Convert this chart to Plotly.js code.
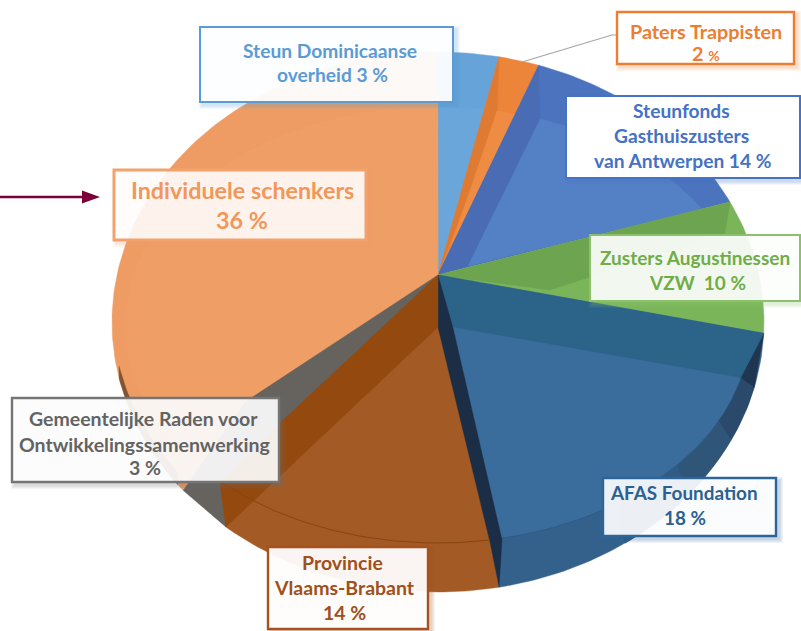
<!DOCTYPE html>
<html>
<head>
<meta charset="utf-8">
<script src="https://cdn.plot.ly/plotly-3.0.0.min.js"></script>
<style>html,body{margin:0;padding:0;background:#fff}#chart{width:801px;height:631px}</style>
</head>
<body>
<div id="chart"></div>
<script>
// ---------- data ----------
const categories = ["Steun Dominicaanse overheid","Paters Trappisten","Steunfonds Gasthuiszusters van Antwerpen","Zusters Augustinessen VZW","AFAS Foundation","Provincie Vlaams-Brabant","Gemeentelijke Raden voor Ontwikkelingssamenwerking","Individuele schenkers"];
const shares = [3,2,14,10,18,14,3,36];
const labelLines = [
  ["Steun Dominicaanse","overheid 3 %"],
  ["Paters Trappisten","<b>2</b> <span style=\"font-size:14px\">%</span>"],
  ["Steunfonds","Gasthuiszusters","van Antwerpen 14 %"],
  ["Zusters Augustinessen","VZW  10 %"],
  ["AFAS Foundation","18 %"],
  ["Provincie","Vlaams-Brabant","14 %"],
  ["Gemeentelijke Raden voor","Ontwikkelingssamenwerking","3 %"],
  ["Individuele schenkers","36 %"]
];

// ---------- styles ----------
const baseColors = ["#66A3D8","#EC8539","#4C74BE","#7AB55A","#34618C","#A35A24","#66635F","#EE9C63"];
const faceColors = ["#6BA6DA","#EF8C44","#5480C6","#7AB55A","#3A6C9C","#A35A24","#66635F","#EF9E66"];
const textColors = ["#5B9BD5","#ED7D31","#4472C4","#70AD47","#2B6192","#A0501A","#636363","#F1975A"];
const edgeColors = ["#5B9BD5","#ED7D31","#4472C4","#8CC06C","#2E6599","#A5521E","#757575","#F2A26C"];
const edgeWidths = [2,2.4,2,2,2.4,2.4,2.4,3];
const boxFill = [0.94,1,1,0.9,0.91,0.94,0.9,0.88];
const boxes = [[200,27,453,102],[617,12,794,64],[566,96,800,178],[590,235,800,301],[603,478,776,536],[268,547,428,629],[12,398,279,482],[114,170,366,240]];
const fontSizes = [19.2,19.8,19.2,19,18.9,19.5,19.5,23.3];
const lineY = [[50,74],[31,53],[110,135,160],[257,282],[492,517],[562,587,612],[418,444,467],[190,220]];
const lineX = [[330,332],[706,706],[681,681,683],[695,697],[684,685],[342,344,344],[143,144,145],[242,242]];

// ---------- pie geometry (pixel axes) ----------
const apex = [438,275];
const rim = {cx:438,cy:322,rx:326,ry:270};
const bevel = {cx:438,cy:325,rx:312,ry:218};
const perspective = [0,0,0,-4.8,-12,0,1,1,0];
const rad = d => d*Math.PI/180;
const onEllipse = (e,t,dy=0) => [e.cx+e.rx*Math.sin(rad(t)), e.cy-e.ry*Math.cos(rad(t))+dy];
const outer = (t,dy) => onEllipse(rim,t,dy);
const inner = t => onEllipse(bevel,t);
function arc(fn,a,b){const n=Math.max(2,Math.ceil(Math.abs(b-a)));const p=[];for(let i=0;i<=n;i++)p.push(fn(a+(b-a)*i/n));return p;}
function hit(t){ // where the ray from the apex to the rim at t crosses the bevel ellipse
  const q=outer(t),dx=(q[0]-apex[0])/bevel.rx,dy=(q[1]-apex[1])/bevel.ry;
  const ox=(apex[0]-bevel.cx)/bevel.rx,oy=(apex[1]-bevel.cy)/bevel.ry;
  const A=dx*dx+dy*dy,B=2*(ox*dx+oy*dy),C=ox*ox+oy*oy-1;
  const s=(-B+Math.sqrt(B*B-4*A*C))/(2*A);
  let a=Math.atan2(ox+s*dx,-(oy+s*dy))*180/Math.PI; if(a<t-180)a+=360; return a;
}
let run=0; const bounds=[0];
shares.forEach(v=>{run+=v;bounds.push(run/100*360);});
const th=bounds.map((b,i)=>b+perspective[i]);

const traces=[];
function poly(pts,color,opacity){
  traces.push({type:"scatter",mode:"lines",x:pts.map(p=>p[0]).concat(pts[0][0]),y:pts.map(p=>p[1]).concat(pts[0][1]),
    fill:"toself",fillcolor:color,opacity:opacity==null?1:opacity,line:{color:color,width:0.4},hoverinfo:"skip",showlegend:false,name:""});
}
function strip(a,b,color){poly(arc(outer,a,b).concat(arc(inner,b,a)),color);}
function curve(pts,color,w){traces.push({type:"scatter",mode:"lines",x:pts.map(p=>p[0]),y:pts.map(p=>p[1]),line:{color:color,width:w},hoverinfo:"skip",showlegend:false,name:""});}
const wedge=(i)=>[apex].concat(arc(outer,th[i],th[i+1]));
const face=(i,from,to,tip)=>poly([tip||apex].concat(arc(inner,from,to)),faceColors[i]);

// slices, back to front
poly(wedge(0),baseColors[0]); face(0,hit(th[0]),hit(th[1]));
poly(wedge(1),baseColors[1]);
poly([apex,outer(th[1]),inner(10.9),[470,190]],"#DF7A33");
poly([[447,258],[470,190]].concat(arc(inner,10.9,hit(th[2]))),faceColors[1]);
poly(wedge(2),baseColors[2]);
poly([apex,outer(th[2]),inner(19.1),[468,266]],"#4A6CB4");
face(2,19.1,hit(th[3]),[468,266]);
poly(wedge(3),baseColors[3]);
poly([apex,outer(th[3]),[725,233],[550,290]],"#6CA450");
poly(wedge(4),baseColors[4]);
strip(104,116,"#2B4A6B"); strip(116,130,"#2F5579"); strip(130,145,"#325B84");
poly([outer(th[4]),inner(104),outer(104)],"#1F3550");
poly([apex,outer(th[4]),inner(104),[452,327]],"#2C6389");
face(4,104,hit(th[5]),[452,327]);
curve(arc(inner,125,hit(th[5])),"#2E5A84",1);
poly(wedge(5),baseColors[5]);
poly([apex,[453,328],[502,540],outer(th[5]),[490,542],[438,327]],"#1B2E45");
poly(wedge(7),baseColors[7]);
face(7,hit(th[7]),359.9);
curve(arc(inner,hit(th[7])+3,359.9),"#F0A06A",0.8);
poly(arc(outer,233,258).concat(arc(t=>outer(t,-12),258,233)),"#7E5433");
poly([apex,[245,402],outer(th[7]),outer(th[6])],baseColors[6]);
poly([apex,[280,423],[220,483],outer(th[6]),[438,327]],"#94490F");
curve(arc(inner,hit(th[5]),224.4),"#8A4510",1);

// ---------- labels ----------
const shapes=[], annotations=[];
shapes.push({type:"line",xref:"x",yref:"y",x0:0,y0:197,x1:84,y1:197,line:{color:"#7B0037",width:2.5}});
shapes.push({type:"path",xref:"x",yref:"y",path:"M82,190.5 L100,197 L82,203.5 Z",fillcolor:"#7B0037",line:{width:0}});
shapes.push({type:"path",xref:"x",yref:"y",path:"M522,62 L612,35 L617,35",line:{color:"#A5A5A5",width:1.2}});
boxes.forEach((b,i)=>{
  for(let k=4;k>=1;k--){
    shapes.push({type:"rect",xref:"x",yref:"y",x0:b[0]+3-k,y0:b[1]+3-k,x1:b[2]+3+k,y1:b[3]+3+k,
      fillcolor:edgeColors[i],opacity:0.07,line:{width:0}});
  }
  shapes.push({type:"rect",xref:"x",yref:"y",x0:b[0],y0:b[1],x1:b[2],y1:b[3],
    fillcolor:"rgba(255,255,255,"+boxFill[i]+")",line:{color:edgeColors[i],width:edgeWidths[i]}});
  labelLines[i].forEach((t,j)=>{
    annotations.push({xref:"x",yref:"y",x:lineX[i][j],y:lineY[i][j],text:t,showarrow:false,xanchor:"center",yanchor:"middle",
      font:{family:"Lato, Carlito, sans-serif",size:fontSizes[i],color:textColors[i],weight:700}});
  });
});

Plotly.newPlot("chart",traces,{
  width:801,height:631,margin:{l:0,r:0,t:0,b:0},paper_bgcolor:"#fff",plot_bgcolor:"#fff",showlegend:false,
  xaxis:{range:[0,801],visible:false,fixedrange:true},
  yaxis:{range:[631,0],visible:false,fixedrange:true},
  shapes:shapes,annotations:annotations
},{displayModeBar:false,staticPlot:true});
</script>
</body>
</html>
